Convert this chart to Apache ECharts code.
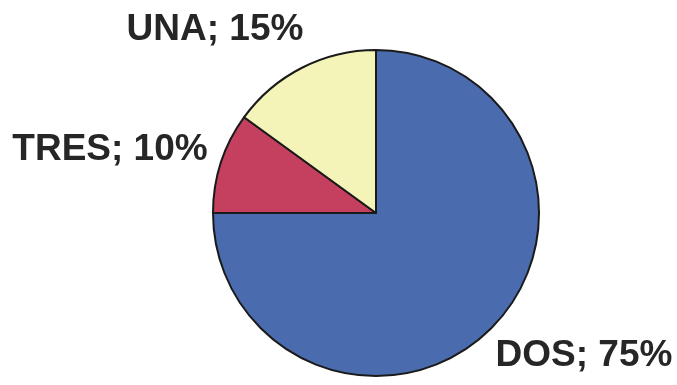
<!DOCTYPE html>
<html>
<head>
<meta charset="utf-8">
<script src="https://cdn.jsdelivr.net/npm/echarts@6/dist/echarts.min.js"></script>
<style>html,body{margin:0;padding:0;background:#fff;}#c{width:677px;height:385px;}</style>
</head>
<body>
<div id="c"></div>
<script>
const categories = ['DOS', 'TRES', 'UNA'];
const values = [75, 10, 15];
const colors = ['#4A6BAE', '#C4405E', '#F4F3B8'];
const labelPos = [[584, 356], [110, 150], [215, 30]];

const chart = echarts.init(document.getElementById('c'), null, {renderer: 'canvas'});
chart.setOption({
  animation: false,
  backgroundColor: '#ffffff',
  series: [{
    type: 'pie',
    center: [376, 213],
    radius: [0, 163],
    startAngle: 90,
    clockwise: true,
    silent: true,
    data: categories.map((c, i) => ({name: c, value: values[i], itemStyle: {color: colors[i]}})),
    itemStyle: {borderColor: '#1a1a1a', borderWidth: 2},
    label: {
      show: true,
      position: 'outside',
      overflow: 'none',
      width: 400,
      formatter: p => p.name + '; ' + p.value + '%',
      fontFamily: 'Liberation Sans, Arial, sans-serif',
      fontWeight: 'bold',
      fontSize: 37,
      color: '#262626'
    },
    labelLine: {show: false},
    labelLayout: function (params) {
      const p = labelPos[params.dataIndex];
      return {x: p[0], y: p[1], align: 'center', verticalAlign: 'middle'};
    }
  }]
});
</script>
</body>
</html>
